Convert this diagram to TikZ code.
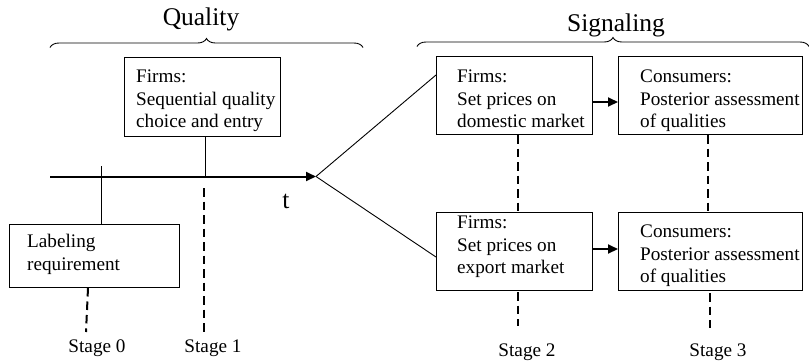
\documentclass[tikz,border=0pt]{standalone}
\usepackage{fontspec}
\setmainfont{Liberation Serif}
\usetikzlibrary{arrows.meta,decorations.pathreplacing}
\begin{document}
\begin{tikzpicture}[x=1pt,y=-1pt,
  box/.style={draw,line width=0.9pt,inner sep=0pt,anchor=north west},
  txt/.style={font=\fontsize{19.2}{22.5}\selectfont,align=left,inner sep=0pt,anchor=north west},
  stagelbl/.style={font=\fontsize{19.2}{22.5}\selectfont,inner sep=0pt,anchor=base},
  title/.style={font=\fontsize{25.5}{30}\selectfont,inner sep=0pt,anchor=base},
  thin/.style={line width=0.9pt},
  thick2/.style={line width=2pt},
  dashline/.style={line width=2pt,dash pattern=on 8.5pt off 5pt},
  arr/.style={line width=2pt,-{Triangle[length=10pt,width=9pt]}},
  bracestyle/.style={line width=0.9pt,decorate,decoration={brace,amplitude=9pt}}
]
\useasboundingbox (0,0) rectangle (809,360);

% titles and braces
\node[title] (qual) at (201,25) {Quality};
\node[title] (sig) at (616,31.7) {Signaling};
\coordinate (qb1) at (50,47.5);
\coordinate (qb2) at (363,47.5);
\coordinate (sb1) at (417,46.5);
\coordinate (sb2) at (809,46.5);
\draw[bracestyle] (qb1) -- (qb2);
\draw[bracestyle] (sb1) -- (sb2);

% boxes
\node[box,minimum width=156pt,minimum height=79pt] (seq) at (124,57) {};
\node[txt] (seqt) at (136,70) {Firms:\\Sequential quality\\choice and entry};

\node[box,minimum width=170pt,minimum height=63pt] (lab) at (9,224) {};
\node[txt] (labt) at (27,234) {Labeling\\requirement};

\node[box,minimum width=156pt,minimum height=78pt] (dom) at (436,56) {};
\node[txt] (domt) at (457,70) {Firms:\\Set prices on\\domestic market};

\node[box,minimum width=184pt,minimum height=78pt] (con1) at (618,56) {};
\node[txt] (con1t) at (640,70) {Consumers:\\Posterior assessment\\of qualities};

\node[box,minimum width=156pt,minimum height=78pt] (exp) at (436,212) {};
\node[txt] (expt) at (457,216) {Firms:\\Set prices on\\export market};

\node[box,minimum width=184pt,minimum height=78pt] (con2) at (618,212) {};
\node[txt] (con2t) at (640,225) {Consumers:\\Posterior assessment\\of qualities};

% timeline
\coordinate (tl0) at (50,176.5);
\coordinate (tip) at (316,176.5);
\draw[arr] (tl0) -- (tip);
\node[title] (tlab) at (286,208.3) {t};

% branches
\coordinate (domin) at (436,75);
\coordinate (expin) at (436,257);
\draw[thin] (tip) -- (domin);
\draw[thin] (tip) -- (expin);

% solid drops
\coordinate (seqdrop) at (205,176.5);
\draw[thin] (seq.south -| seqdrop) -- (seqdrop);
\coordinate (tick) at (101,166);
\coordinate (labtop) at (101,224);
\draw[thin] (tick) -- (labtop);

% arrows between boxes
\draw[arr] (dom.east |- 0,102) -- (con1.west |- 0,102);
\draw[arr] (exp.east |- 0,249) -- (con2.west |- 0,249);

% stage labels
\node[stagelbl] (s0) at (97,352.5) {Stage 0};
\node[stagelbl] (s1) at (213,352.5) {Stage 1};
\node[stagelbl] (s2) at (527,356.5) {Stage 2};
\node[stagelbl] (s3) at (718,356.5) {Stage 3};

% dashed lines
\coordinate (d0a) at (88,288);
\coordinate (d0b) at (86,332);
\draw[dashline] (d0a) -- (d0b);
\coordinate (d1a) at (204,188);
\coordinate (d1b) at (204,332);
\draw[dashline] (d1a) -- (d1b);
\coordinate (d2a) at (518,135);
\coordinate (d2b) at (518,211);
\draw[dashline] (d2a) -- (d2b);
\coordinate (d2c) at (518,292);
\coordinate (d2d) at (518,326);
\draw[dashline] (d2c) -- (d2d);
\coordinate (d3a) at (708,135);
\coordinate (d3b) at (708,211);
\draw[dashline] (d3a) -- (d3b);
\coordinate (d3c) at (710,293);
\coordinate (d3d) at (710,328);
\draw[dashline] (d3c) -- (d3d);
\end{tikzpicture}
\end{document}
